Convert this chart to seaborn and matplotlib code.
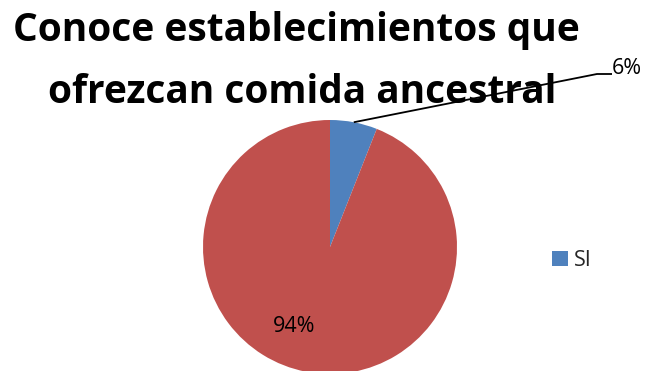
import matplotlib
matplotlib.use("Agg")
import matplotlib.pyplot as plt
import seaborn as sns
import numpy as np

categories = ["SI", "NO"]
values = [6, 94]
colors = ["#4F81BD", "#C0504D"]
title_lines = ["Conoce establecimientos que", "ofrezcan comida ancestral"]

sns.set_theme(style="white")
plt.rcParams['font.family'] = ['Open Sans', 'DejaVu Sans']

W, H = 646, 371
fig = plt.figure(figsize=(W / 100, H / 100), dpi=100)
ax = fig.add_axes([0, 0, 1, 1])

cx, cy, r = 330, H - 247, 127
wedges, _ = ax.pie(values, colors=colors, startangle=90, counterclock=False,
                   center=(cx, cy), radius=r, frame=True,
                   wedgeprops=dict(linewidth=0))
ax.set_xlim(0, W)
ax.set_ylim(0, H)
ax.set_aspect('equal')
ax.axis('off')

# leader line for SI
total = sum(values)
mid = np.deg2rad(90 - 360 * values[0] / total / 2)
p0 = (cx + r * np.cos(mid), cy + r * np.sin(mid))
ax.plot([p0[0], 597, 612], [p0[1], H - 74, H - 74], color="black", lw=1.3,
        solid_capstyle='butt', zorder=5)
ax.text(612, H - 68, f"{values[0]}%", fontsize=15.5, ha='left', va='center', color="black")

ax.text(294, H - 327, f"{values[1]}%", fontsize=15.5, ha='center', va='center', color="black")

# title
ax.text(296, H - 41, title_lines[0], fontsize=28, fontweight='bold', ha='center',
        va='baseline', color='black', zorder=4)
ax.text(302, H - 103, title_lines[1], fontsize=28, fontweight='bold', ha='center',
        va='baseline', color='black', zorder=4)

ax.legend([wedges[0]], [categories[0]], loc='center left', bbox_to_anchor=(552 / W, 1 - 260.5 / H),
          frameon=False, fontsize=15.5, handlelength=0.72, handleheight=0.72, handletextpad=0.3,
          borderaxespad=0, borderpad=0)

fig.savefig("out.png", dpi=100)
